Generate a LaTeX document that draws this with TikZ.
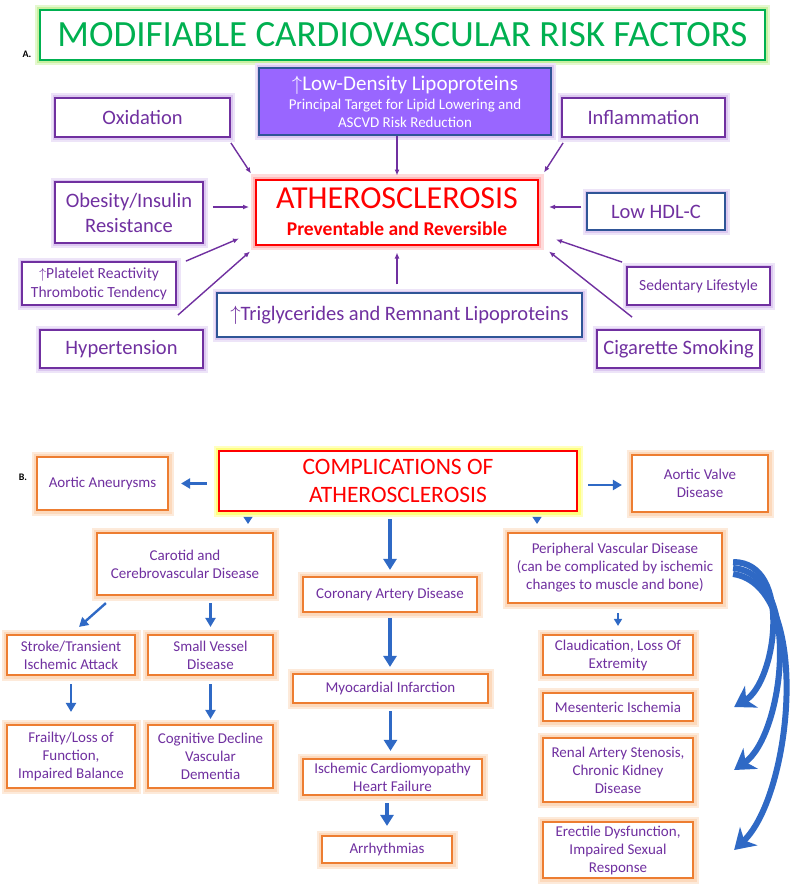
\documentclass[tikz,border=0pt]{standalone}
\usepackage{fontspec}
\setmainfont{Carlito}
\usetikzlibrary{arrows.meta}
\definecolor{rfpurple}{HTML}{7030A0}
\definecolor{rfglow}{HTML}{DCC8F0}
\definecolor{hdlblue}{HTML}{2F5597}
\definecolor{ldlfill}{HTML}{9966FF}
\definecolor{ttgreen}{HTML}{00B050}
\definecolor{ttglow}{HTML}{C8F0A0}
\definecolor{athred}{HTML}{FF0000}
\definecolor{athglow}{HTML}{FFB8B8}
\definecolor{cpyellow}{HTML}{FFFF80}
\definecolor{orng}{HTML}{ED7D31}
\definecolor{orglow}{HTML}{FCD9BC}
\definecolor{arblue}{HTML}{2F69C5}
\newcommand{\fsz}[2]{\fontsize{#1}{#2}\selectfont}

\begin{document}
\begin{tikzpicture}[x=1pt, y=-1pt,
    ttl/.style={draw=ttgreen, line width=2pt, fill=white, text=ttgreen, font=\fsz{37}{42}, inner sep=0pt, preaction={draw=ttglow!50, line width=10pt}, preaction={draw=ttglow, line width=6pt}},
    rf/.style={draw=rfpurple, line width=1.8pt, fill=white, text=rfpurple, font=\fsz{20.5}{25}, align=center, inner sep=0pt, preaction={draw=rfglow!50, line width=9pt}, preaction={draw=rfglow, line width=5pt}},
    rfb/.style={rf, draw=hdlblue, line width=1.4pt},
    ldl/.style={rf, fill=ldlfill, draw=hdlblue, text=white, line width=1.4pt, font=\fsz{15}{18}},
    ath/.style={draw=athred, line width=2pt, fill=white, text=athred, align=center, inner sep=0pt, font=\fsz{19.5}{27}\bfseries, preaction={draw=athglow!50, line width=11pt}, preaction={draw=athglow, line width=6pt}},
    pa/.style={-{Latex[length=6pt,width=5pt]}, draw=rfpurple, line width=1.4pt},
    cx/.style={draw=orng, line width=2.2pt, fill=white, text=rfpurple, font=\fsz{15}{18}, align=center, inner sep=0pt, preaction={draw=orglow!55, line width=11pt}, preaction={draw=orglow, line width=7pt}},
    cmp/.style={draw=athred, line width=2.4pt, fill=white, text=athred, font=\fsz{23.5}{28}, align=center, inner sep=0pt, preaction={draw=cpyellow!50, line width=11pt}, preaction={draw=cpyellow, line width=7pt}},
    ba/.style={-{Triangle[length=9pt,width=10pt]}, draw=arblue, line width=2.4pt},
    bb/.style={-{Triangle[length=11pt,width=13pt]}, draw=arblue, line width=3.6pt},
    tri/.style={-{Triangle[length=7pt,width=9pt]}, draw=arblue, line width=1pt},
    cv/.style={-{Stealth[length=20pt,width=25pt,inset=6pt]}, draw=arblue, line width=6pt},
    lbl/.style={font=\fsz{10}{12}\bfseries, inner sep=0pt}]
\path[use as bounding box, fill=white] (0,0) rectangle (791,888);

% part A
\node[lbl] (la) at (27,54) {A.};
\node[ttl, minimum width=725pt, minimum height=50pt] (ttl) at (402.5,35) {MODIFIABLE CARDIOVASCULAR RISK FACTORS};
\node[ldl, minimum width=292pt, minimum height=67pt] (ldl) at (405,101.5) {{\fsz{21}{24}$\uparrow$Low-Density Lipoproteins}\\[1pt]Principal Target for Lipid Lowering and\\ASCVD Risk Reduction};
\node[rf, minimum width=175pt, minimum height=39pt] (oxi) at (142.5,117.5) {Oxidation};
\node[rf, minimum width=163pt, minimum height=39pt] (infl) at (643.5,117.5) {Inflammation};
\node[ath, minimum width=282pt, minimum height=65pt] (ath) at (397,212) {{\fsz{32}{34}\mdseries ATHEROSCLEROSIS}\\Preventable and Reversible};
\node[rf, minimum width=148pt, minimum height=61pt] (obes) at (129,212.5) {Obesity/Insulin\\Resistance};
\node[rfb, minimum width=138pt, minimum height=37pt] (hdl) at (656,211.5) {Low HDL-C};
\node[rf, minimum width=154pt, minimum height=43pt, font=\fsz{15.5}{19}] (plat) at (99,283.5) {$\uparrow$Platelet Reactivity\\Thrombotic Tendency};
\node[rf, minimum width=143pt, minimum height=38pt, font=\fsz{15.5}{19}] (sed) at (698.5,286) {Sedentary Lifestyle};
\node[rfb, minimum width=365pt, minimum height=44pt] (trig) at (399.5,315) {$\uparrow$Triglycerides and Remnant Lipoproteins};
\node[rf, minimum width=163pt, minimum height=38pt] (hyp) at (121.5,349) {Hypertension};
\node[rf, minimum width=163pt, minimum height=38pt] (cig) at (678.5,349) {Cigarette Smoking};

% arrows A
\draw[pa] ([yshift=-5pt]oxi.south east) -- ([xshift=-4pt,yshift=5pt]ath.north west);
\draw[pa, shorten >=3pt] (ldl.south -| ath.north) -- (ath.north);
\draw[pa] ([xshift=2pt,yshift=-5pt]infl.south west) -- ([xshift=5pt,yshift=6pt]ath.north east);
\draw[pa] ([xshift=9pt,yshift=5.5pt]obes.east) -- ([xshift=-6pt,yshift=5pt]ath.west);
\draw[pa] ([xshift=-5pt,yshift=4.5pt]hdl.west) -- ([xshift=10pt,yshift=5pt]ath.east);
\draw[pa] ([xshift=9pt]plat.north east) -- ([xshift=-16pt,yshift=7pt]ath.south west);
\draw[pa] ([xshift=-26pt,yshift=14pt]hyp.north east) -- ([xshift=-5pt,yshift=-6pt]ath.south west);
\draw[pa] ([xshift=-4pt,yshift=4pt]sed.north west) -- ([xshift=17pt,yshift=6pt]ath.south east);
\draw[pa] ([xshift=36pt,yshift=12pt]cig.north west) -- ([xshift=10pt,yshift=-6pt]ath.south east);
\draw[pa, shorten <=8pt, shorten >=7pt] (trig.north -| ath.south) -- (ath.south);

% part B
\node[lbl] (lb) at (23,477) {B.};
\node[cmp, minimum width=358pt, minimum height=60pt] (cmp) at (398,481) {COMPLICATIONS OF\\ATHEROSCLEROSIS};
\node[cx, minimum width=131pt, minimum height=53pt] (aneu) at (102.5,483.5) {Aortic Aneurysms};
\node[cx, minimum width=136pt, minimum height=57pt] (valve) at (700,483.5) {Aortic Valve\\Disease};
\node[cx, minimum width=176pt, minimum height=62pt] (car) at (185,564) {Carotid and\\Cerebrovascular Disease};
\node[cx, minimum width=174pt, minimum height=35pt] (cor) at (390,594.5) {Coronary Artery Disease};
\node[cx, minimum width=214pt, minimum height=70pt] (pvd) at (615,568) {Peripheral Vascular Disease\\(can be complicated by ischemic\\changes to muscle and bone)};
\node[cx, minimum width=128pt, minimum height=40pt] (strk) at (71,655) {Stroke/Transient\\Ischemic Attack};
\node[cx, minimum width=125pt, minimum height=40pt] (svd) at (210.5,655) {Small Vessel\\Disease};
\node[cx, minimum width=128pt, minimum height=63pt] (frail) at (71,756.5) {Frailty/Loss of\\Function,\\Impaired Balance};
\node[cx, minimum width=125pt, minimum height=63pt] (cog) at (210.5,756.5) {Cognitive Decline\\Vascular\\Dementia};
\node[cx, minimum width=195pt, minimum height=29pt] (mi) at (390.5,688.5) {Myocardial Infarction};
\node[cx, minimum width=179pt, minimum height=36pt] (icm) at (392.5,777) {Ischemic Cardiomyopathy\\Heart Failure};
\node[cx, minimum width=130pt, minimum height=27pt] (arr) at (387,849.5) {Arrhythmias};
\node[cx, minimum width=150pt, minimum height=40pt] (cla) at (618,655) {Claudication, Loss Of\\Extremity};
\node[cx, minimum width=150pt, minimum height=28pt] (mes) at (618,707) {Mesenteric Ischemia};
\node[cx, minimum width=150pt, minimum height=64pt] (ren) at (618,770) {Renal Artery Stenosis,\\Chronic Kidney\\Disease};
\node[cx, minimum width=150pt, minimum height=56pt] (erec) at (618,850) {Erectile Dysfunction,\\Impaired Sexual\\Response};

% arrows B
\draw[ba, shorten <=11pt, shorten >=12pt] (cmp.west |- aneu.east) -- (aneu.east);
\draw[ba, shorten <=10pt, shorten >=9pt] ([yshift=-4pt]cmp.east) -- ([yshift=-4pt]cmp.east -| valve.west);
\draw[tri, shorten <=5pt, shorten >=8pt] ([xshift=-150pt]cmp.south) -- ([xshift=63pt]car.north);
\draw[tri, shorten <=5pt, shorten >=8pt] ([xshift=139pt]cmp.south) -- ([xshift=-78pt]pvd.north);
\draw[bb, shorten <=7pt, shorten >=6pt] (cmp.south -| cor.north) -- (cor.north);
\draw[ba] ([xshift=10pt,yshift=-7pt]car.south west) -- ([xshift=8pt,yshift=7pt]strk.north);
\draw[ba, shorten <=7pt, shorten >=7pt] (car.south -| svd.north) -- (svd.north);
\draw[ba, shorten <=8pt, shorten >=12pt] (strk.south) -- (frail.north);
\draw[ba, shorten <=8pt, shorten >=5pt] (svd.south) -- (cog.north);
\draw[bb, shorten <=5pt, shorten >=6pt] (cor.south) -- (cor.south |- mi.north);
\draw[bb, shorten <=7pt, shorten >=7pt] (mi.south) -- (mi.south |- icm.north);
\draw[bb, shorten <=7pt, shorten >=9pt] (arr.north |- icm.south) -- (arr.north);
\draw[ba, line width=1.6pt, -{Triangle[length=7pt,width=8pt]}, shorten <=9pt, shorten >=8pt] (pvd.south -| cla.north) -- (cla.north);
\draw[cv] ([xshift=10pt,yshift=6pt]pvd.east) .. controls +(60,0) and +(42,-25) .. ([xshift=40pt]mes.east);
\draw[cv] ([xshift=10pt]pvd.east) .. controls +(70,6) and +(50,-35) .. ([xshift=40pt]ren.east);
\draw[cv] ([xshift=10pt,yshift=-6pt]pvd.east) .. controls +(80,12) and +(58,-55) .. ([xshift=40pt]erec.east);
\end{tikzpicture}
\end{document}
